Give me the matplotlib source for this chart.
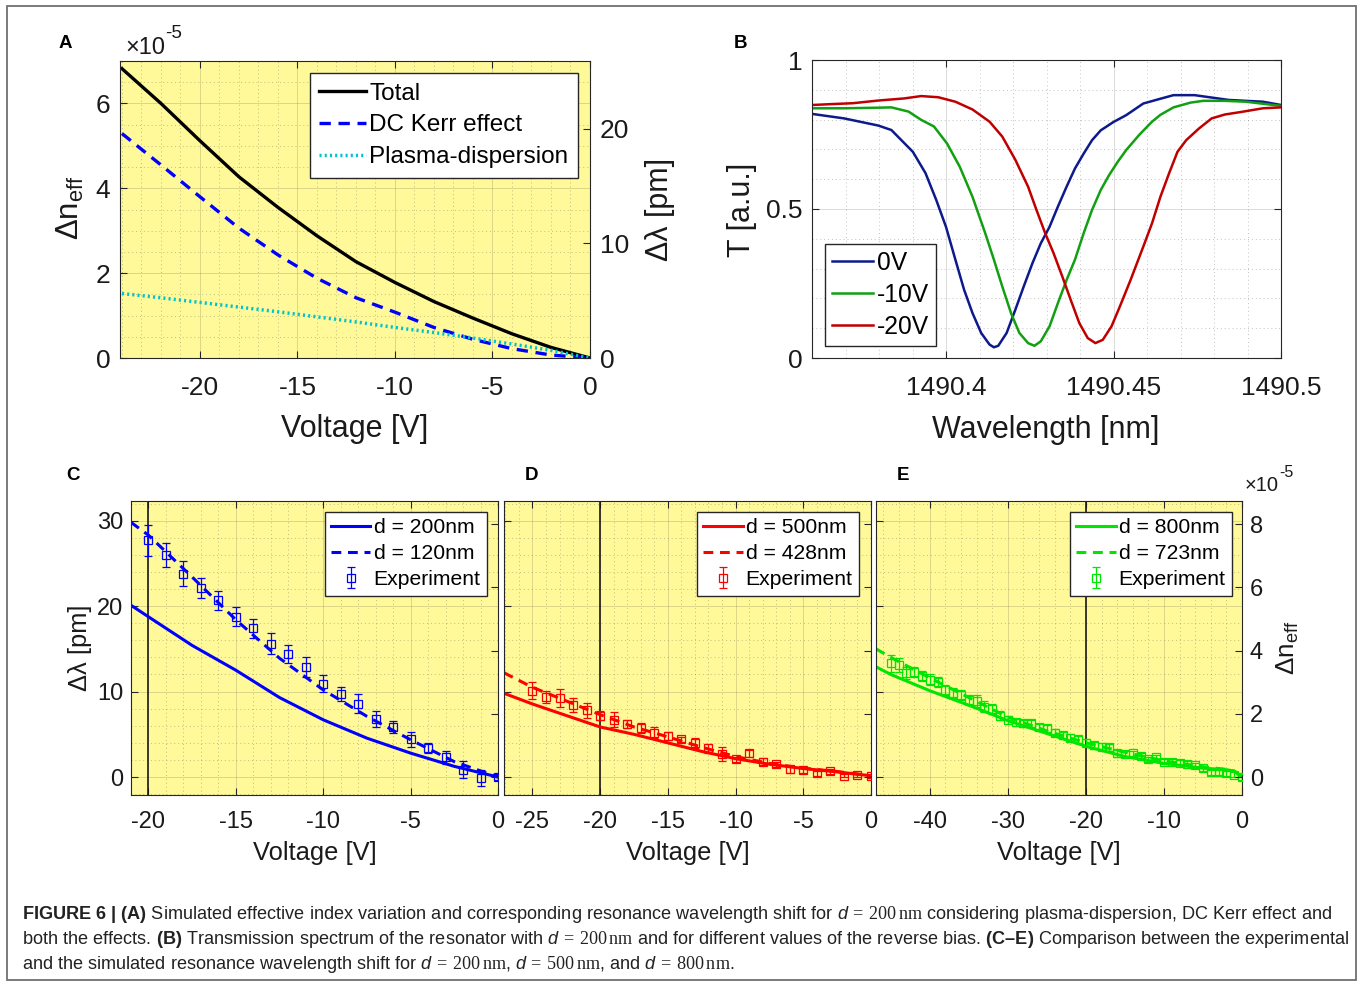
import matplotlib
matplotlib.use("Agg")
import matplotlib.pyplot as plt
from matplotlib.ticker import MultipleLocator
from matplotlib.patches import Rectangle

# ---------------- data ----------------
# (A) simulated effective index change, in units of 1e-5
volt_a = [-24, -22, -20, -18, -16, -14, -12, -10, -8, -6, -4, -2, 0]
total_a = [6.82, 6.00, 5.12, 4.27, 3.55, 2.88, 2.27, 1.78, 1.33, 0.94, 0.57, 0.25, 0.0]
kerr_a = [5.29, 4.55, 3.80, 3.06, 2.43, 1.88, 1.42, 1.08, 0.72, 0.44, 0.22, 0.07, 0.0]
plasma_a = [1.52, 1.42, 1.31, 1.20, 1.09, 0.97, 0.85, 0.72, 0.60, 0.47, 0.33, 0.18, 0.0]

# (B) transmission spectra
wl_0v = [1490.3601, 1490.3696, 1490.3798, 1490.3837, 1490.3901, 1490.3939, 1490.3971,
         1490.4000, 1490.4028, 1490.4054, 1490.4079, 1490.4105, 1490.4130, 1490.4143,
         1490.4156, 1490.4181, 1490.4207, 1490.4232, 1490.4258, 1490.4283, 1490.4309,
         1490.4334, 1490.4360, 1490.4385, 1490.4411, 1490.4436, 1490.4462, 1490.4500,
         1490.4538, 1490.4589, 1490.4640, 1490.4679, 1490.4742, 1490.4793, 1490.4844,
         1490.4895, 1490.4946, 1490.5000]
t_0v = [0.819, 0.804, 0.780, 0.765, 0.692, 0.620, 0.530, 0.440, 0.330, 0.229, 0.151,
        0.084, 0.045, 0.036, 0.041, 0.084, 0.162, 0.240, 0.318, 0.385, 0.440, 0.508,
        0.575, 0.636, 0.686, 0.731, 0.764, 0.792, 0.815, 0.854, 0.870, 0.882, 0.882,
        0.874, 0.866, 0.863, 0.860, 0.849]
wl_10v = [1490.3601, 1490.3696, 1490.3798, 1490.3837, 1490.3888, 1490.3926, 1490.3964,
          1490.4003, 1490.4041, 1490.4079, 1490.4117, 1490.4143, 1490.4168, 1490.4194,
          1490.4219, 1490.4245, 1490.4264, 1490.4283, 1490.4309, 1490.4334, 1490.4360,
          1490.4385, 1490.4411, 1490.4436, 1490.4462, 1490.4487, 1490.4513, 1490.4538,
          1490.4577, 1490.4615, 1490.4640, 1490.4679, 1490.4730, 1490.4768, 1490.4832,
          1490.4895, 1490.5000]
t_10v = [0.838, 0.838, 0.840, 0.841, 0.827, 0.799, 0.777, 0.720, 0.642, 0.541, 0.419,
         0.330, 0.240, 0.151, 0.084, 0.050, 0.041, 0.056, 0.106, 0.184, 0.262, 0.330,
         0.419, 0.497, 0.564, 0.614, 0.659, 0.698, 0.749, 0.793, 0.816, 0.841, 0.857,
         0.863, 0.863, 0.860, 0.846]
wl_20v = [1490.3601, 1490.3658, 1490.3722, 1490.3798, 1490.3875, 1490.3926, 1490.3977,
          1490.4028, 1490.4079, 1490.4130, 1490.4168, 1490.4207, 1490.4245, 1490.4270,
          1490.4296, 1490.4321, 1490.4347, 1490.4372, 1490.4398, 1490.4423, 1490.4446,
          1490.4468, 1490.4494, 1490.4519, 1490.4551, 1490.4589, 1490.4615, 1490.4640,
          1490.4666, 1490.4691, 1490.4717, 1490.4755, 1490.4793, 1490.4832, 1490.4883,
          1490.4946, 1490.5000]
t_20v = [0.849, 0.852, 0.855, 0.864, 0.871, 0.879, 0.875, 0.860, 0.834, 0.793, 0.743,
         0.665, 0.575, 0.497, 0.419, 0.352, 0.274, 0.196, 0.117, 0.067, 0.050, 0.061,
         0.106, 0.173, 0.262, 0.374, 0.452, 0.541, 0.620, 0.692, 0.731, 0.770, 0.804,
         0.817, 0.826, 0.838, 0.841]

# (C) d = 200 nm, wavelength shift in pm
volt_c_sim = [-21, -20, -17.5, -15, -12.5, -10, -7.5, -5, -2.5, 0]
shift_c_200 = [20.1, 18.75, 15.4, 12.5, 9.3, 6.7, 4.55, 2.8, 1.25, 0.0]
shift_c_120 = [29.8, 28.3, 23.4, 18.4, 13.9, 10.2, 7.1, 4.36, 1.8, 0.0]
volt_c_exp = list(range(-20, 1))
shift_c_exp = [27.7, 26.0, 23.8, 22.1, 20.7, 18.75, 17.4, 15.6, 14.4, 12.9, 10.9,
               9.7, 8.6, 6.8, 5.9, 4.4, 3.4, 2.3, 0.86, -0.1, 0.0]
err_c_exp = [1.8, 1.4, 1.5, 1.2, 1.1, 1.1, 1.1, 1.2, 1.1, 1.2, 1.0,
             0.8, 1.1, 0.9, 0.7, 0.9, 0.6, 0.8, 1.0, 0.9, 0.3]

# (D) d = 500 nm
volt_d_sim = [-27.1, -25, -22.5, -20, -17.5, -15, -12.5, -10, -7.5, -5, -2.5, 0]
shift_d_500 = [9.8, 8.55, 7.2, 5.86, 5.0, 4.0, 3.0, 2.15, 1.5, 1.0, 0.6, 0.15]
shift_d_428 = [12.2, 10.5, 8.9, 7.3, 5.86, 4.7, 3.5, 2.4, 1.6, 1.04, 0.65, 0.15]
volt_d_exp = list(range(-25, 1))
shift_d_exp = [10.1, 9.4, 9.25, 8.4, 7.8, 7.2, 6.7, 6.2, 5.7, 5.2, 4.8, 4.4, 4.0,
               3.35, 2.7, 2.1, 2.8, 1.8, 1.5, 0.9, 0.77, 0.46, 0.65, 0.15, 0.23, 0.08]
err_d_exp = [1.0, 0.7, 1.05, 0.8, 0.85, 0.5, 0.9, 0.5, 0.6, 0.6, 0.5, 0.3, 0.6,
             0.5, 0.85, 0.3, 0.4, 0.4, 0.3, 0.4, 0.3, 0.3, 0.3, 0.2, 0.2, 0.2]

# (E) d = 800 nm
volt_e_sim = [-46.9, -45, -40, -35, -30, -25, -20, -15, -10, -5, -2, -1, 0]
shift_e_800 = [12.9, 12.0, 10.1, 8.4, 6.6, 5.1, 3.6, 2.4, 1.6, 1.04, 0.85, 0.7, 0.0]
shift_e_723 = [15.0, 14.0, 11.6, 9.3, 7.0, 5.4, 4.0, 2.9, 1.9, 1.2, 0.9, 0.7, 0.0]
volt_e_exp = list(range(-45, 1))
shift_e_exp = [13.3, 13.1, 12.2, 12.3, 11.8, 11.4, 11.1, 10.2, 9.8, 9.6,
               9.0, 8.9, 8.25, 8.0, 7.2, 6.7, 6.4, 6.3, 6.3, 5.86,
               5.7, 5.2, 4.9, 4.6, 4.4, 4.0, 3.7, 3.55, 3.5, 2.8,
               2.7, 2.8, 2.5, 2.1, 2.3, 1.8, 1.8, 1.7, 1.55, 1.4,
               1.04, 0.58, 0.58, 0.46, 0.27, 0.0]
err_e_exp = [1.0, 0.8, 0.7, 0.6, 0.6, 0.6, 0.6, 0.6, 0.6, 0.6,
             0.6, 0.7, 0.6, 0.6, 0.5, 0.5, 0.4, 0.4, 0.4, 0.4,
             0.4, 0.4, 0.4, 0.4, 0.4, 0.4, 0.4, 0.4, 0.4, 0.4,
             0.3, 0.3, 0.3, 0.3, 0.3, 0.3, 0.3, 0.3, 0.3, 0.3,
             0.3, 0.3, 0.3, 0.3, 0.3, 0.3]

PM_PER_DN = 3.7       # pm of shift per 1e-5 of effective index
BIAS_LINE = -20

caption = [
    r"$\mathbf{FIGURE\ 6\ |\ (A)}$ Simulated effective index variation and corresponding "
    r"resonance wavelength shift for $d\,=\,200\,\mathrm{nm}$ considering plasma-dispersion, "
    r"DC Kerr effect and",
    r"both the effects. $\mathbf{(B)}$ Transmission spectrum of the resonator with "
    r"$d\,=\,200\,\mathrm{nm}$ and for different values of the reverse bias. "
    r"$\mathbf{(C–E)}$ Comparison between the experimental",
    r"and the simulated resonance wavelength shift for $d\,=\,200\,\mathrm{nm}$, "
    r"$d\,=\,500\,\mathrm{nm}$, and $d\,=\,800\,\mathrm{nm}$.",
]

# ---------------- style ----------------
plt.rcParams['font.family'] = ['Liberation Sans', 'DejaVu Sans']
plt.rcParams['axes.unicode_minus'] = False
plt.rcParams['mathtext.fontset'] = 'custom'
plt.rcParams['mathtext.rm'] = 'Liberation Serif'
plt.rcParams['mathtext.it'] = 'Liberation Sans:italic'
plt.rcParams['mathtext.bf'] = 'Liberation Sans:bold'
plt.rcParams['mathtext.sf'] = 'Liberation Sans'

YELLOW = '#fff99a'
EDGE = '#262626'
TXT = '#1a1a1a'
W, H = 1360, 984


def rect(left, top, right, bottom):
    return [left / W, (H - bottom) / H, (right - left) / W, (bottom - top) / H]


def style(ax, face, xminor, yminor, tsize, xpad, ypad, right_ticks=True):
    ax.set_facecolor(face)
    for s in ax.spines.values():
        s.set_color(EDGE)
        s.set_linewidth(0.8)
    ax.tick_params(which='both', direction='in', top=True, right=right_ticks,
                   colors=EDGE, labelcolor=TXT, labelsize=tsize)
    ax.tick_params(which='major', length=5, width=0.8)
    ax.tick_params(which='minor', length=0)
    ax.tick_params(axis='x', pad=xpad)
    ax.tick_params(axis='y', pad=ypad)
    ax.xaxis.set_minor_locator(MultipleLocator(xminor))
    ax.yaxis.set_minor_locator(MultipleLocator(yminor))
    ax.grid(True, which='major', color=EDGE, alpha=0.16, lw=0.7)
    ax.grid(True, which='minor', color=EDGE, alpha=0.28, lw=0.7, ls=(0, (1, 3)))
    ax.set_axisbelow(True)


def twin(ax, ylim, ticks, tsize, pad, labels=True):
    t = ax.twinx()
    t.set_ylim(*ylim)
    t.set_yticks(ticks)
    for s in t.spines.values():
        s.set_visible(False)
    t.tick_params(direction='in', length=5, width=0.8, colors=EDGE, labelcolor=TXT,
                  labelsize=tsize, pad=pad, labelright=labels)
    return t


def offset_text(x, y, size):
    # MATLAB style "x10^-5" exponent label
    fig.text(x / W, 1 - y / H, '×10', fontsize=size, color=TXT, ha='left', va='baseline')
    fig.text((x + 2.35 * size) / W, 1 - (y - 0.95 * size) / H, '-5', fontsize=0.8 * size,
             color=TXT, ha='left', va='baseline')


fig = plt.figure(figsize=(W / 100, H / 100), dpi=100)

leg_kw = dict(frameon=True, fancybox=False, framealpha=1, edgecolor=EDGE,
              borderaxespad=0, handletextpad=0.15, bbox_transform=fig.transFigure)

# ---------------- panel A ----------------
axa = fig.add_axes(rect(120, 61, 590, 358))
style(axa, YELLOW, 1, 0.5, 19, 13, 7, right_ticks=False)
axa.plot(volt_a, total_a, color='black', lw=2.4, label='Total')
axa.plot(volt_a, kerr_a, color='#0000ff', lw=2.4, dashes=(3.4, 2.3), label='DC Kerr effect')
axa.plot(volt_a, plasma_a, color='#00c4cc', lw=2.5, dashes=(0.6, 0.9), label='Plasma-dispersion')
axa.set_xlim(-24.1, 0)
axa.set_ylim(0, 7)
axa.set_xticks([-20, -15, -10, -5, 0])
axa.set_yticks([0, 2, 4, 6])
axa.set_xlabel('Voltage [V]', fontsize=22, color=TXT)
axa.set_ylabel(r'Δn$_{\mathsf{eff}}$', fontsize=22.5, color=TXT)
axa.xaxis.set_label_coords(0.5, -0.19)
axa.yaxis.set_label_coords(-0.072, 0.505)
axa.legend(loc='upper right', bbox_to_anchor=(578 / W, 1 - 73 / H), fontsize=17.5,
           handlelength=1.9, borderpad=0.4, labelspacing=0.4, **leg_kw)
axa2 = twin(axa, (0, 7 * PM_PER_DN), [0, 10, 20], 19, 7)
axa2.set_ylabel('Δλ [pm]', fontsize=22, color=TXT)
axa2.yaxis.set_label_coords(1.117, 0.5)
offset_text(125, 54, 17)

# ---------------- panel B ----------------
axb = fig.add_axes(rect(812, 60, 1281, 358))
style(axb, 'white', 0.01, 0.1, 19, 13, 7)
axb.plot(wl_0v, t_0v, color='#0d1a8c', lw=1.8, label='0V')
axb.plot(wl_10v, t_10v, color='#12a012', lw=1.8, label='-10V')
axb.plot(wl_20v, t_20v, color='#c00000', lw=1.8, label='-20V')
axb.set_xlim(1490.36, 1490.5)
axb.set_ylim(0, 1)
axb.set_xticks([1490.4, 1490.45, 1490.5], labels=['1490.4', '1490.45', '1490.5'])
axb.set_yticks([0, 0.5, 1], labels=['0', '0.5', '1'])
axb.set_xlabel('Wavelength [nm]', fontsize=22, color=TXT)
axb.set_ylabel('T [a.u.]', fontsize=22, color=TXT)
axb.xaxis.set_label_coords(0.499, -0.19)
axb.yaxis.set_label_coords(-0.117, 0.497)
axb.legend(loc='lower left', bbox_to_anchor=(825 / W, 1 - 346 / H), fontsize=17.7,
           handlelength=1.65, borderpad=0.3, labelspacing=0.32, **leg_kw)

# ---------------- panels C, D, E ----------------
ylim_pm = (-2.1, 32.3)
ylim_dn = (ylim_pm[0] / PM_PER_DN, ylim_pm[1] / PM_PER_DN)
panels = [
    dict(box=(131, 501, 498, 795), xlim=(-21, 0), xticks=[-20, -15, -10, -5, 0], xminor=1,
         color='#0000ff', sim_v=volt_c_sim, solid=shift_c_200, dashed=shift_c_120,
         names=('d = 200nm', 'd = 120nm'), exp_v=volt_c_exp, exp=shift_c_exp,
         err=err_c_exp, leg=(487, 512)),
    dict(box=(504, 501, 871, 795), xlim=(-27.1, 0), xticks=[-25, -20, -15, -10, -5, 0],
         xminor=1, color='#ff0000', sim_v=volt_d_sim, solid=shift_d_500,
         dashed=shift_d_428, names=('d = 500nm', 'd = 428nm'), exp_v=volt_d_exp,
         exp=shift_d_exp, err=err_d_exp, leg=(859, 512)),
    dict(box=(876, 501, 1242, 795), xlim=(-46.9, 0), xticks=[-40, -30, -20, -10, 0],
         xminor=2, color='#00e600', sim_v=volt_e_sim, solid=shift_e_800,
         dashed=shift_e_723, names=('d = 800nm', 'd = 723nm'), exp_v=volt_e_exp,
         exp=shift_e_exp, err=err_e_exp, leg=(1232, 512)),
]
for i, p in enumerate(panels):
    ax = fig.add_axes(rect(*p['box']))
    style(ax, YELLOW, p['xminor'], 2, 17, 11.5, 5.5, right_ticks=False)
    ax.axvline(BIAS_LINE, color=TXT, lw=1.2, zorder=1.5)
    ax.plot(p['sim_v'], p['solid'], color=p['color'], lw=2.2, label=p['names'][0])
    ax.plot(p['sim_v'], p['dashed'], color=p['color'], lw=2.2, dashes=(3.2, 2.2),
            label=p['names'][1])
    ax.errorbar(p['exp_v'], p['exp'], yerr=p['err'], fmt='s', ms=5.5, mfc='none',
                mec=p['color'], mew=0.9, ecolor=p['color'], elinewidth=0.9, capsize=3,
                capthick=0.9, label='Experiment', zorder=3)
    ax.set_xlim(*p['xlim'])
    ax.set_ylim(*ylim_pm)
    ax.set_xticks(p['xticks'])
    ax.set_yticks([0, 10, 20, 30])
    ax.set_xlabel('Voltage [V]', fontsize=18.4, color=TXT)
    ax.xaxis.set_label_coords(0.5, -0.158)
    if i == 0:
        ax.set_ylabel('Δλ [pm]', fontsize=18.4, color=TXT)
        ax.yaxis.set_label_coords(-0.106, 0.5)
    else:
        ax.tick_params(labelleft=False)
    ax.legend(loc='upper right', bbox_to_anchor=(p['leg'][0] / W, 1 - p['leg'][1] / H),
              fontsize=15.2, handlelength=1.85, borderpad=0.3, labelspacing=0.33, **leg_kw)
    t = twin(ax, ylim_dn, [0, 2, 4, 6, 8], 17, 5.7, labels=(i == 2))
    if i == 2:
        t.set_ylabel(r'Δn$_{\mathsf{eff}}$', fontsize=18.8, color=TXT)
        t.yaxis.set_label_coords(1.09, 0.5)

offset_text(1245, 491, 14.5)

# panel letters
for letter, x, y in [('A', 65, 44), ('B', 741, 44), ('C', 73, 476), ('D', 531, 476),
                     ('E', 903, 476)]:
    fig.text(x / W, 1 - y / H, letter, fontsize=13.5, fontweight='bold', ha='center',
             va='center', color='black')

# caption
for k, line in enumerate(caption):
    fig.text(22 / W, 1 - (919 + 25 * k) / H, line, fontsize=13.1, color='#222222',
             ha='left', va='baseline')

# outer frame
fig.add_artist(Rectangle((7 / W, 1 - 980 / H), 1349 / W, 974 / H, transform=fig.transFigure,
                         fill=False, edgecolor='#707070', lw=1.3))

fig.savefig('out.png', dpi=100)
